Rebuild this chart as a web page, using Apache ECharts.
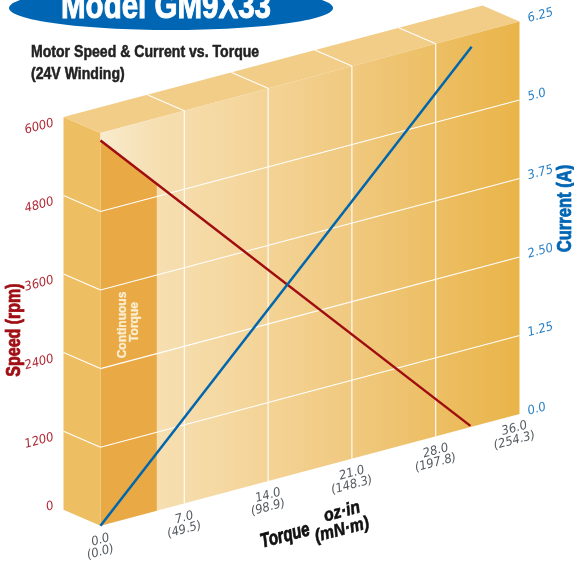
<!DOCTYPE html>
<html>
<head>
<meta charset="utf-8">
<style>html,body{margin:0;padding:0;background:#fff}#c{width:574px;height:567px}</style>
<script src="https://cdn.jsdelivr.net/npm/echarts@6/dist/echarts.min.js"></script>
</head>
<body>
<div id="c"></div>
<script>
// ---- data ----
const torqueTicks = [0, 7, 14, 21, 28, 35];
const torqueLabels = ['0.0\n(0.0)', '7.0\n(49.5)', '14.0\n(98.9)', '21.0\n(148.3)', '28.0\n(197.8)', '36.0\n(254.3)'];
const speedTicks = [0, 1200, 2400, 3600, 4800, 6000];
const speedLabels = ['0', '1200', '2400', '3600', '4800', '6000'];
const currentTicks = [0, 1.25, 2.5, 3.75, 5, 6.25];
const currentLabels = ['0.0', '1.25', '2.50', '3.75', '5.0', '6.25'];
const speedTorque = [0, 30.9];
const speedValues = [5885, 20];
const currentTorque = [0, 31.0];
const currentValues = [0, 6.05];
const continuousTorque = 4.7;
const continuousSpeed = 4985;

// ---- look ----
const SLOPE = -0.2663;
const DEPTH = [-37, -16];
const TILT = Math.atan(-SLOPE);
const GRID = {left: 100.5, top: 133, width: 419, height: 392.7};
const SANS = '"Liberation Sans",Arial,sans-serif';
const TICKFONT = 'italic 12.5px "DejaVu Sans",sans-serif';

function P(api, x, y) {
  const p = api.coord([x, y]);
  return [p[0], p[1] + (p[0] - GRID.left) * SLOPE];
}
const back = p => [p[0] + DEPTH[0], p[1] + DEPTH[1]];
const xMax = torqueTicks[torqueTicks.length - 1];
const yMax = speedTicks[speedTicks.length - 1];

function poly(points, fill) {
  return {type: 'polygon', shape: {points}, style: {fill, stroke: null}};
}
function seg(a, b) {
  return {type: 'polyline', shape: {points: [a, b]}, style: {stroke: '#fff', lineWidth: 1.1, fill: null}};
}
function label(x, y, text, fill, align) {
  return {type: 'text', x, y, rotation: TILT, scaleX: 0.93,
    style: {x: 0, y: 0, text, font: TICKFONT, fill, align: align || 'center', verticalAlign: 'middle'}};
}

function renderFrame(params, api) {
  const bl = P(api, 0, 0), br = P(api, xMax, 0), tl = P(api, 0, yMax), tr = P(api, xMax, yMax);
  const kids = [];
  kids.push(poly([back(tl), tl, bl, back(bl)], '#eebe63'));
  kids.push(poly([back(tl), tl, tr, back(tr)], '#f2cd88'));
  kids.push(poly([tl, tr, br, bl], new echarts.graphic.LinearGradient(0, 0, 1, 0, [
    {offset: 0, color: '#f8ebcd'},
    {offset: 0.13, color: '#f6dfb2'},
    {offset: 0.3, color: '#f5d8a1'},
    {offset: 0.6, color: '#f0c97f'},
    {offset: 1, color: '#e9b449'}
  ])));
  kids.push(poly([bl, P(api, continuousTorque, 0), P(api, continuousTorque, continuousSpeed),
    P(api, speedTorque[0], speedValues[0])], '#e9a945'));
  speedTicks.slice(1, -1).forEach(v => {
    const a = P(api, 0, v);
    kids.push(seg(back(a), a), seg(a, P(api, xMax, v)));
  });
  torqueTicks.slice(1, -1).forEach(t => {
    const a = P(api, t, yMax);
    kids.push(seg(back(a), a), seg(a, P(api, t, 0)));
  });
  speedTicks.forEach((v, i) => {
    const a = back(P(api, 0, v));
    kids.push(label(a[0] - 10, a[1] + (i === 0 ? -4 : 6), speedLabels[i], '#b02a35', 'right'));
  });
  torqueTicks.forEach((t, i) => {
    const a = P(api, t, 0);
    const dx = i === torqueTicks.length - 1 ? -5 : 0;
    const parts = torqueLabels[i].split('\n');
    kids.push(label(a[0] + dx, a[1] + 14.5, parts[0], '#555a5f'));
    kids.push(label(a[0] + dx, a[1] + 26.5, parts[1], '#555a5f'));
  });
  return {type: 'group', children: kids};
}

function renderCurrentLabels(params, api) {
  return {type: 'group', children: currentTicks.map((v, i) => {
    const a = P(api, xMax, v);
    return label(a[0] + 8.5, a[1] - 2.5, currentLabels[i], '#2b80c5', 'left');
  })};
}

function lineRenderer(xs, ys, color) {
  return function (params, api) {
    return {type: 'polyline', shape: {points: xs.map((x, i) => P(api, x, ys[i]))},
      style: {stroke: color, lineWidth: 2.5, fill: null}};
  };
}

// heavy condensed display text: a bold face squeezed along its baseline
const txt = (x, y, text, size, sx, fill, rot, opt) => {
  const o = opt || {};
  return {
    type: 'text', x, y, rotation: rot || 0, scaleX: sx, z: 100,
    style: {x: 0, y: 0, text, font: (o.italic ? 'italic ' : '') + 'bold ' + size + 'px ' + SANS, fill,
      align: o.align || 'center', verticalAlign: 'middle', stroke: fill, lineWidth: o.heavy === undefined ? 0.5 : o.heavy}
  };
};

const chart = echarts.init(document.getElementById('c'), null, {renderer: 'canvas'});
chart.setOption({
  animation: false,
  backgroundColor: '#fff',
  grid: GRID,
  xAxis: {type: 'value', min: 0, max: xMax, interval: 7, show: false},
  yAxis: [
    {type: 'value', min: 0, max: yMax, interval: 1200, show: false},
    {type: 'value', min: 0, max: 6.25, interval: 1.25, show: false}
  ],
  graphic: [
    {type: 'ellipse', shape: {cx: 171, cy: 8, rx: 162, ry: 22}, style: {fill: '#0066b3'}, z: 90},
    txt(166, 8.5, 'Model GM9X33', 36, 0.82, '#fff', 0, {heavy: 1}),
    txt(31, 53, 'Motor Speed & Current vs. Torque', 16, 0.88, '#222', 0, {align: 'left'}),
    txt(31, 75, '(24V Winding)', 16, 0.88, '#222', 0, {align: 'left'}),
    txt(14, 330, 'Speed (rpm)', 20, 0.8, '#a00f14', Math.PI / 2, {heavy: 0.8}),
    txt(565, 208.5, 'Current (A)', 20, 0.83, '#0066b3', Math.PI / 2, {heavy: 0.8}),
    txt(285, 536, 'Torque', 20, 0.75, '#111', TILT, {italic: true, heavy: 0.8}),
    txt(342, 512, 'oz\u00b7in', 18, 0.88, '#111', TILT, {italic: true, heavy: 0.6}),
    txt(342, 530, '(mN\u00b7m)', 18, 0.88, '#111', TILT, {italic: true, heavy: 0.6}),
    txt(122.5, 325, 'Continuous', 12, 1, '#fbeed0', Math.PI / 2, {heavy: 0.3}),
    txt(135, 322, 'Torque', 12, 1, '#fbeed0', Math.PI / 2, {heavy: 0.3})
  ],
  series: [
    {name: 'Frame', type: 'custom', coordinateSystem: 'cartesian2d', xAxisIndex: 0, yAxisIndex: 0,
      data: [[0, 0]], renderItem: renderFrame, z: 1, silent: true},
    {name: 'Current ticks', type: 'custom', coordinateSystem: 'cartesian2d', xAxisIndex: 0, yAxisIndex: 1,
      data: [[0, 0]], renderItem: renderCurrentLabels, z: 2, silent: true},
    {name: 'Speed (rpm)', type: 'custom', coordinateSystem: 'cartesian2d', xAxisIndex: 0, yAxisIndex: 0,
      data: speedTorque.map((t, i) => [t, speedValues[i]]),
      renderItem: (p, api) => p.dataIndex === 0 ? lineRenderer(speedTorque, speedValues, '#a00d10')(p, api) : null, z: 3},
    {name: 'Current (A)', type: 'custom', coordinateSystem: 'cartesian2d', xAxisIndex: 0, yAxisIndex: 1,
      data: currentTorque.map((t, i) => [t, currentValues[i]]),
      renderItem: (p, api) => p.dataIndex === 0 ? lineRenderer(currentTorque, currentValues, '#0066ad')(p, api) : null, z: 4}
  ]
});
</script>
</body>
</html>
